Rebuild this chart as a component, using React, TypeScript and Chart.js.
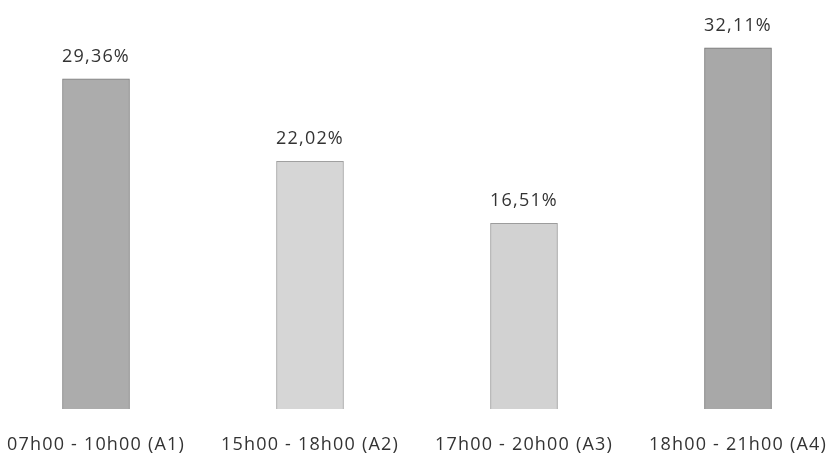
import React, { useEffect, useRef } from "react";
import { Chart, registerables } from "chart.js";

Chart.register(...registerables);

const categories = [
  "07h00 - 10h00 (A1)",
  "15h00 - 18h00 (A2)",
  "17h00 - 20h00 (A3)",
  "18h00 - 21h00 (A4)",
];
const values = [29.36, 22.02, 16.51, 32.11];
const barColors = ["#acacac", "#d6d6d6", "#d2d2d2", "#a8a8a8"];
const borderColors = ["#7e7e7e", "#a0a0a0", "#9c9c9c", "#747474"];

const FONT = "'Open Sans', sans-serif";
const SPACING = "1.2px";

const letterSpacingPlugin = {
  id: "letterSpacing",
  beforeDraw(chart: any) {
    (chart.ctx as any).letterSpacing = SPACING;
  },
};

const valueLabels = {
  id: "valueLabels",
  afterDatasetsDraw(chart: any) {
    const ctx = chart.ctx;
    const meta = chart.getDatasetMeta(0);
    ctx.save();
    (ctx as any).letterSpacing = SPACING;
    ctx.font = `18px ${FONT}`;
    ctx.fillStyle = "#333333";
    ctx.textAlign = "center";
    ctx.textBaseline = "bottom";
    meta.data.forEach((el: any, i: number) => {
      const v = values[i];
      const txt = v.toFixed(2).replace(".", ",") + "%";
      ctx.fillText(txt, el.x, el.y - 13);
    });
    ctx.restore();
  },
};

export default function App() {
  const ref = useRef<HTMLCanvasElement | null>(null);
  useEffect(() => {
    if (!ref.current) return;
    const chart = new Chart(ref.current, {
      type: "bar",
      data: {
        labels: categories,
        datasets: [
          {
            data: values,
            backgroundColor: barColors,
            borderColor: borderColors,
            borderWidth: 1,
            barThickness: 67,
            clip: false as any,
          },
        ],
      },
      options: {
        animation: false,
        responsive: false,
        maintainAspectRatio: false,
        layout: { padding: { left: 96, right: 93, top: 21, bottom: 0 } },
        plugins: { legend: { display: false }, tooltip: { enabled: false } },
        scales: {
          x: {
            offset: false,
            grid: { display: false },
            border: { display: false },
            ticks: {
              color: "#333333",
              font: { family: FONT, size: 18 },
              padding: 17,
              maxRotation: 0,
              autoSkip: false,
            },
            afterFit: (scale: any) => {
              scale.paddingLeft = 0;
              scale.paddingRight = 0;
              scale.height = 47;
            },
          },
          y: {
            display: false,
            min: 0,
            max: 34.5,
          },
        },
      },
      plugins: [letterSpacingPlugin, valueLabels],
    });
    return () => chart.destroy();
  }, []);
  return (
    <div style={{ position: "fixed", left: 0, top: 0, width: 831, height: 456, background: "#fff" }}>
      <canvas ref={ref} width={831} height={456} style={{ width: 831, height: 456 }} />
    </div>
  );
}
